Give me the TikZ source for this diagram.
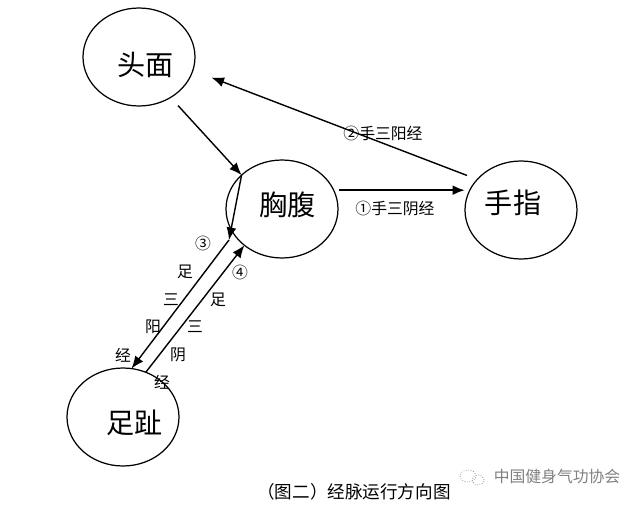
\documentclass[tikz,border=0pt]{standalone}
\usepackage{fontspec}
\setmainfont{Noto Sans CJK SC}
\usetikzlibrary{
    arrows.meta,
    shapes.geometric,
    positioning
}

\begin{document}
\begin{tikzpicture}[x=0.02cm, y=-0.02cm,
    >={Latex[length=2.5mm, width=2mm]},
    part/.style={draw, ellipse, line width=0.7pt, minimum width=2.24cm, minimum height=1.96cm,
        inner sep=0pt, outer sep=0pt},
    parttext/.style={font=\fontsize{16}{16}\selectfont},
    lbl/.style={font=\fontsize{9}{9}\selectfont, inner sep=0pt},
    flow/.style={->, line width=0.8pt}]
    \useasboundingbox (0, 0) rectangle (640, 507);

    \node[part, label={[parttext, xshift=0.14cm, yshift=-0.16cm]center:头面}] (face) at (139, 57) {};
    \node[part, label={[parttext, xshift=0.12cm, yshift=0.08cm]center:胸腹}] (chest) at (282, 209) {};
    \node[part, label={[parttext, xshift=-0.16cm, yshift=0.14cm]center:手指}] (hand) at (521, 210) {};
    \node[part, label={[parttext, xshift=0.24cm, yshift=-0.12cm]center:足趾}] (toe) at (123, 417) {};
    \coordinate (yangtop) at (229, 240);

    \draw
    (face.-52) edge[flow, shorten <=0.22cm] (chest.140)
    (chest.140) edge[flow] (yangtop)
    (yangtop) edge[flow] (toe.80)
    (toe.63) edge[flow] (chest.224)
    (hand.145) edge[flow, shorten <=0.22cm, shorten >=0.4cm] (face.-14);
    \draw[->, line width=1.3pt, shorten <=0.1cm] (chest.20) -- (chest.20 -| hand.west);

    \node[lbl] (handyang) at (383, 133) {②手三阳经};
    \node[lbl] (handyin) at (395, 208) {①手三阴经};
    \foreach \ch/\px/\py [count=\i] in {③/203/243, 足/185/272, 三/171/300, 阳/153/327, 经/123/355}
        \node[lbl] (footyang\i) at (\px, \py) {\ch};
    \foreach \ch/\px/\py [count=\i] in {④/240/272, 足/218/300, 三/195/327, 阴/178/355, 经/162/382}
        \node[lbl] (footyin\i) at (\px, \py) {\ch};

    % caption and mark
    \node[font=\fontsize{10}{10}\selectfont] (caption) at (354, 492) {（图二）经脉运行方向图};
    \draw[gray, densely dotted] (468, 476) ellipse [x radius=0.16cm, y radius=0.12cm];
    \draw[gray, densely dotted] (478, 480) ellipse [x radius=0.12cm, y radius=0.1cm];
    \node[lbl, text=gray] (mark) at (557, 477) {中国健身气功协会};
\end{tikzpicture}
\end{document}
